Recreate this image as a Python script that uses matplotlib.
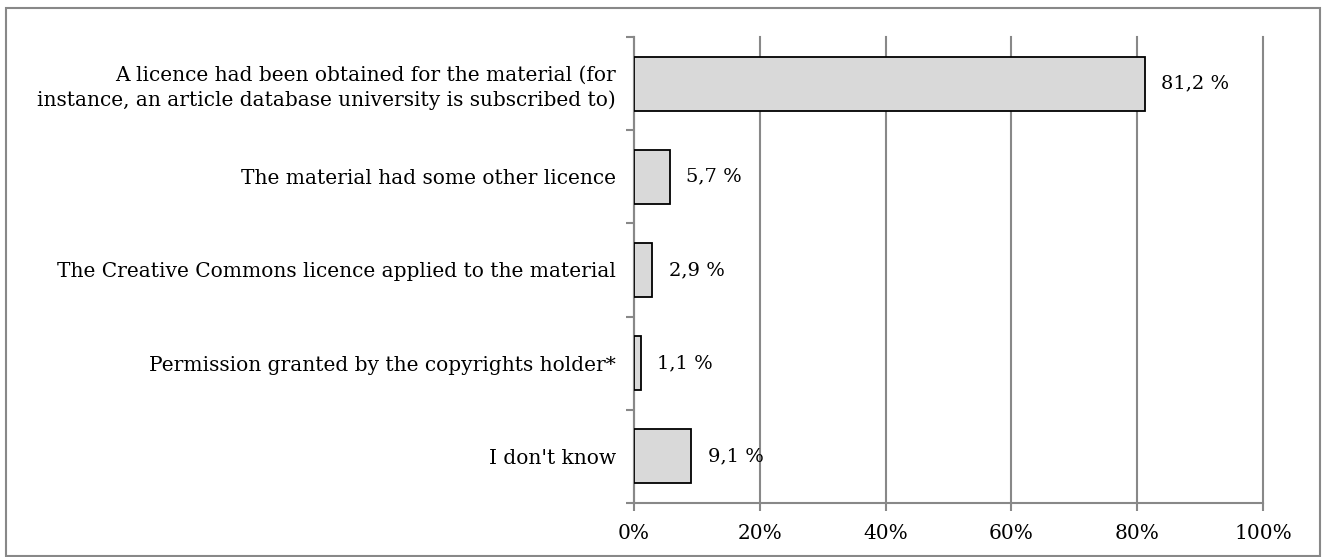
import numpy as np
import matplotlib.pyplot as plt
from matplotlib.patches import Rectangle

categories = [
    "A licence had been obtained for the material (for\ninstance, an article database university is subscribed to)",
    "The material had some other licence",
    "The Creative Commons licence applied to the material",
    "Permission granted by the copyrights holder*",
    "I don't know",
]
values = [81.2, 5.7, 2.9, 1.1, 9.1]
value_labels = ["81,2 %", "5,7 %", "2,9 %", "1,1 %", "9,1 %"]
xticks = [0, 20, 40, 60, 80, 100]
xtick_labels = ["0%", "20%", "40%", "60%", "80%", "100%"]

plt.rcParams['font.family'] = ['DejaVu Serif']

fig = plt.figure(figsize=(13.24, 5.57), dpi=100)
ax = fig.add_axes([634 / 1324, 1 - 503 / 557, 629 / 1324, 466 / 557])

y = np.arange(len(categories))
ax.barh(y, values, height=0.58, color='#d9d9d9', edgecolor='black', linewidth=1.3, zorder=3)
for yi, v, lab in zip(y, values, value_labels):
    ax.text(v + 2.6, yi, lab, va='center', ha='left', fontsize=14)

ax.set_xlim(0, 100)
ax.set_ylim(len(categories) - 0.5, -0.5)
ax.set_xticks(xticks)
ax.set_xticklabels(xtick_labels, fontsize=14.5)
ax.set_yticks(y)
ax.set_yticklabels(categories, fontsize=14.5, linespacing=1.3)
ax.set_yticks(np.arange(-0.5, len(categories)), minor=True)
ax.tick_params(axis='y', which='major', length=0, pad=13)
ax.tick_params(axis='y', which='minor', length=6, width=1.5, color='#888888')
ax.tick_params(axis='x', length=6, width=1.5, color='#888888', pad=9)
for lab in ax.get_yticklabels():
    lab.set_horizontalalignment('right')
    lab.set_multialignment('right')

ax.grid(axis='x', color='#888888', linewidth=1.5, zorder=0)
for gl in ax.get_xgridlines():
    gl.set_clip_on(False)
for s in ['top', 'right']:
    ax.spines[s].set_visible(False)
for s in ['left', 'bottom']:
    ax.spines[s].set_color('#888888')
    ax.spines[s].set_linewidth(1.5)

fig.patches.append(Rectangle((6 / 1324, 1 / 557), 1314 / 1324, 548 / 557,
                             transform=fig.transFigure, fill=False,
                             edgecolor='#888888', linewidth=1.5))

fig.savefig('out.png', dpi=100)
